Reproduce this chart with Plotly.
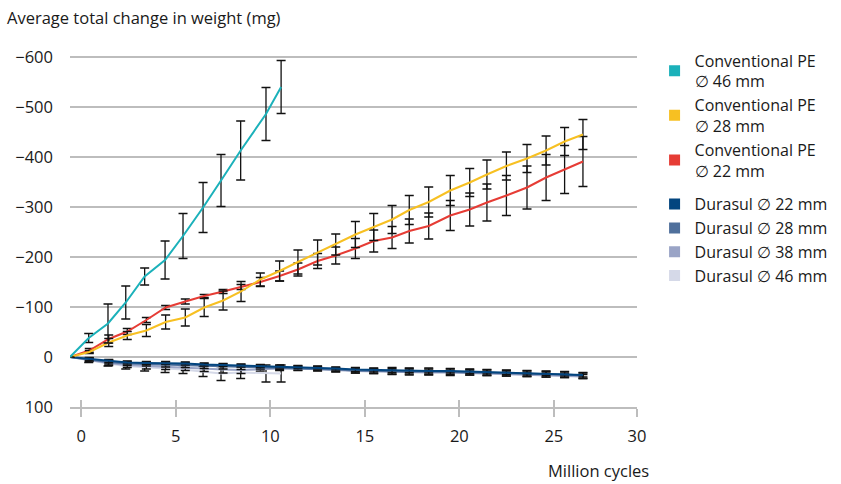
import plotly.graph_objects as go

# ---------------- data ----------------
x_conv = [-0.6, 0.42, 1.45, 2.43, 3.44, 4.46, 5.5, 6.5, 7.5, 8.45, 9.47, 10.49, 11.46, 12.5,
          13.46, 14.5, 15.47, 16.44, 17.35, 18.38, 19.52, 20.55, 21.46, 22.49, 23.58, 24.59,
          25.57, 26.54]
x_46 = [-0.6, 0.39, 1.41, 2.35, 3.35, 4.43, 5.38, 6.44, 7.39, 8.43, 9.77, 10.57]

conv46 = [0, -38, -67, -109, -161, -194, -242, -299, -353, -413, -486, -540]
conv46_err = [0, 9, 39, 33, 17, 38, 45, 50, 52, 59, 53, 53]

conv28 = [0, -10, -29, -43, -53, -70, -79, -99, -113, -131, -155, -172, -190, -209, -225,
          -245, -260, -275, -294, -310, -333, -349, -365, -382, -397, -413, -431, -445]
conv28_err = [0, 3, 8, 8, 12, 14, 17, 18, 19, 20, 13, 20, 24, 25, 21, 26, 27, 28, 29, 30,
              30, 28, 29, 28, 28, 29, 28, 30]

conv22 = [0, -13, -36, -51, -74, -99, -111, -122, -131, -140, -150, -162, -175, -192, -203,
          -217, -232, -239, -252, -262, -283, -295, -309, -323, -339, -359, -375, -391]
conv22_err = [0, 4, 8, 6, 5, 4, 5, 3, 4, 5, 9, 10, 13, 15, 17, 20, 22, 22, 24, 26, 30, 33,
              37, 40, 43, 46, 48, 50]

dur22 = [0, 4, 8, 11, 12, 12, 13, 15, 16, 17, 18, 19, 20, 21, 23, 25, 26, 27, 27, 28, 28,
         29, 30, 31, 32, 33, 34, 36]
dur22_err = [0, 3, 3, 3, 3, 3, 3, 3, 3, 3, 3, 3, 3, 3, 3, 4, 4, 4, 4, 4, 4, 4, 4, 4, 4, 4, 4, 4]

dur28 = [0, 5, 10, 13, 14, 15, 16, 18, 19, 20, 20, 21, 22, 23, 25, 27, 28, 28, 29, 29, 30,
         30, 31, 32, 33, 34, 35, 37]
dur28_err = [0, 3, 4, 4, 4, 5, 5, 5, 5, 5, 4, 4, 4, 4, 4, 5, 5, 7, 7, 7, 7, 6, 6, 6, 6, 6, 6, 6]

dur38 = [0, 6, 12, 16, 18, 19, 21, 23, 25, 26, 24, 23, 23, 24, 26, 28, 29, 30, 30, 31, 31,
         32, 33, 34, 35, 36, 37, 39]
dur38_err = [0, 3, 5, 5, 6, 6, 6, 6, 7, 7, 4, 4, 4, 4, 4, 4, 4, 4, 4, 4, 4, 4, 4, 4, 4, 4, 4, 4]

dur46 = [0, 7, 13, 18, 21, 23, 25, 29, 33, 31, 33, 33]
dur46_err = [0, 4, 5, 6, 7, 8, 8, 10, 14, 12, 17, 17]

names = {
    "c46": "Conventional PE<br>∅ 46 mm",
    "c28": "Conventional PE<br>∅ 28 mm",
    "c22": "Conventional PE<br>∅ 22 mm",
    "d22": "Durasul ∅ 22 mm",
    "d28": "Durasul ∅ 28 mm",
    "d38": "Durasul ∅ 38 mm",
    "d46": "Durasul ∅ 46 mm",
}
colors = {
    "c46": "#1bb1ba",
    "c28": "#f7c022",
    "c22": "#e63c35",
    "d22": "#03457f",
    "d28": "#50709c",
    "d38": "#9aa4c6",
    "d46": "#d5d9e8",
}

x_ticks = [0, 5, 10, 15, 20, 25, 29.4]
x_ticktext = ["0", "5", "10", "15", "20", "25", "30"]
y_ticks = [-600, -500, -400, -300, -200, -100, 0, 100]
y_ticktext = ["−600", "−500", "−400", "−300", "−200", "−100", "0", "100"]

FONT = "Open Sans"
TXT = "#1a1a1a"
GRID = "#bdbdbd"

fig = go.Figure()

def add_series(key, xs, ys, errs):
    fig.add_trace(go.Scatter(
        x=xs, y=ys, mode="lines", showlegend=False, hoverinfo="skip",
        line=dict(color=colors[key], width=2),
        error_y=dict(type="data", array=errs, visible=True, color="#111111",
                     thickness=1.3, width=4.5),
    ))

add_series("d46", x_46, dur46, dur46_err)
add_series("d38", x_conv, dur38, dur38_err)
add_series("d28", x_conv, dur28, dur28_err)
add_series("d22", x_conv, dur22, dur22_err)
add_series("c22", x_conv, conv22, conv22_err)
add_series("c28", x_conv, conv28, conv28_err)
add_series("c46", x_46, conv46, conv46_err)

# legend entries (square swatches)
for rank, key in enumerate(["c46", "c28", "c22", "d22", "d28", "d38", "d46"]):
    fig.add_trace(go.Scatter(
        x=[None], y=[None], mode="markers", name=names[key],
        legendgroup="conv" if key.startswith("c") else "dur",
        legendrank=rank + 1,
        marker=dict(symbol="square", size=11, color=colors[key]),
    ))

# helper trace for the upper half of the cross ticks
fig.add_trace(go.Scatter(x=[None], y=[None], xaxis="x2", showlegend=False, hoverinfo="skip"))

fig.update_layout(
    width=841, height=484,
    margin=dict(l=70, r=204, t=47, b=77, autoexpand=False),
    paper_bgcolor="white", plot_bgcolor="white",
    font=dict(family=FONT, size=16.5, color=TXT),
    xaxis=dict(
        range=[-0.6, 29.4], tickvals=x_ticks, ticktext=x_ticktext,
        showgrid=False, zeroline=False,
        showline=True, linecolor=GRID, linewidth=1.5,
        ticks="outside", ticklen=8, tickwidth=1.5, tickcolor=GRID,
        ticklabelstandoff=5, automargin=False,
        tickfont=dict(size=16.5, color=TXT),
    ),
    xaxis2=dict(
        matches="x", overlaying="x", side="bottom", range=[-0.6, 29.4],
        tickvals=x_ticks, showticklabels=False, showgrid=False, zeroline=False,
        showline=False, ticks="inside", ticklen=7, tickwidth=1.5, tickcolor=GRID,
    ),
    yaxis=dict(
        range=[100, -620], tickvals=y_ticks, ticktext=y_ticktext,
        showgrid=True, gridcolor=GRID, gridwidth=1.5, zeroline=False,
        showline=False, ticks="", ticklabelstandoff=16, automargin=False,
        tickfont=dict(size=16.5, color=TXT),
    ),
    legend=dict(
        x=1.031, xanchor="left", y=1.01, yanchor="top",
        font=dict(size=16, color=TXT), tracegroupgap=10,
        traceorder="grouped", bgcolor="rgba(0,0,0,0)", maxheight=440,
    ),
    annotations=[
        dict(text="Average total change in weight (mg)", xref="paper", yref="paper",
             x=-0.114, y=1.083, xanchor="left", yanchor="middle", showarrow=False,
             font=dict(size=16.5, color=TXT)),
        dict(text="Million cycles", xref="paper", yref="paper",
             x=1.024, y=-0.175, xanchor="right", yanchor="middle", showarrow=False,
             font=dict(size=16.5, color=TXT)),
    ],
)

fig.write_html("out.html")
